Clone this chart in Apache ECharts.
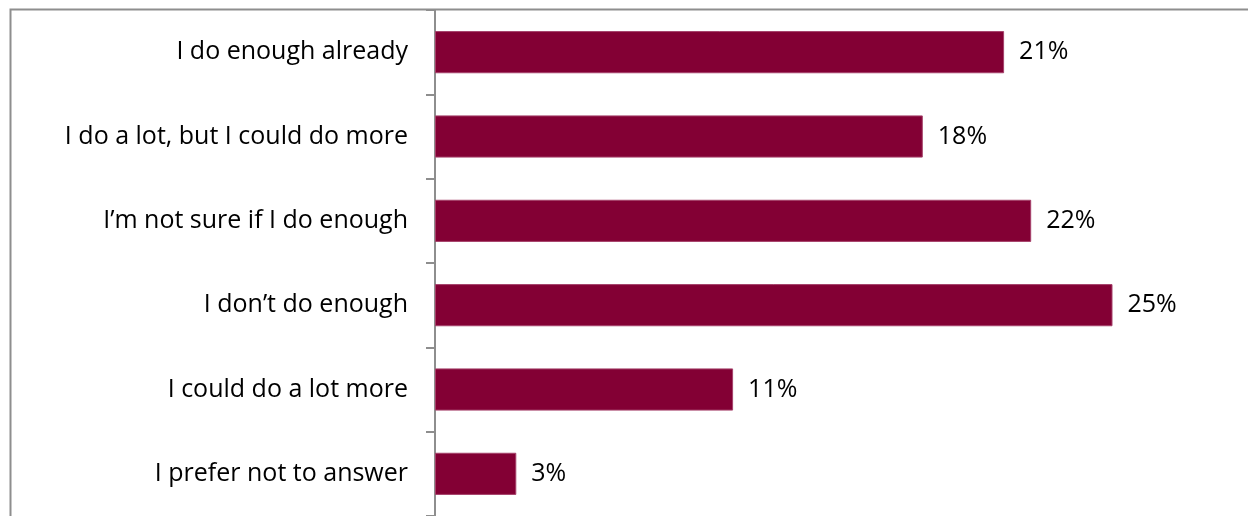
<!DOCTYPE html>
<html>
<head>
<meta charset="utf-8">
<style>
  html, body { margin: 0; padding: 0; background: #ffffff; }
  #chart { width: 1248px; height: 516px; }
</style>
<script src="https://cdn.jsdelivr.net/npm/echarts@6/dist/echarts.min.js"></script>
</head>
<body>
<div id="chart"></div>
<script>
// Answer options, top to bottom
const categories = [
  'I do enough already',
  'I do a lot, but I could do more',
  'I\u2019m not sure if I do enough',
  'I don\u2019t do enough',
  'I could do a lot more',
  'I prefer not to answer'
];
// Share of respondents (%)
const shares = [21, 18, 22, 25, 11, 3];

const FONT = "'Open Sans', sans-serif";
const chart = echarts.init(document.getElementById('chart'), null, { renderer: 'canvas' });

chart.setOption({
  animation: false,
  backgroundColor: '#ffffff',
  graphic: [{
    type: 'rect',
    silent: true,
    z: 0,
    shape: { x: 10.5, y: 9.5, width: 1400, height: 700 },
    style: { fill: 'none', stroke: '#8e8e8e', lineWidth: 2 }
  }],
  grid: { left: 435, top: 10, width: 815, height: 512 },
  xAxis: {
    type: 'value',
    min: 0,
    max: 30,
    show: false
  },
  yAxis: {
    type: 'category',
    data: categories,
    inverse: true,
    axisLine: { show: true, lineStyle: { color: '#8e8e8e', width: 2 } },
    axisTick: { show: true, length: 9, lineStyle: { color: '#8e8e8e', width: 2 } },
    axisLabel: { color: '#000000', fontFamily: FONT, fontSize: 25, margin: 27 },
    splitLine: { show: false }
  },
  series: [{
    type: 'bar',
    data: shares,
    barWidth: '50%',
    itemStyle: { color: '#830034', borderColor: '#a5416a', borderWidth: 1 },
    label: {
      show: true,
      position: 'right',
      distance: 15,
      color: '#000000',
      fontFamily: FONT,
      fontSize: 25,
      formatter: p => p.value + '%'
    }
  }]
});
</script>
</body>
</html>
